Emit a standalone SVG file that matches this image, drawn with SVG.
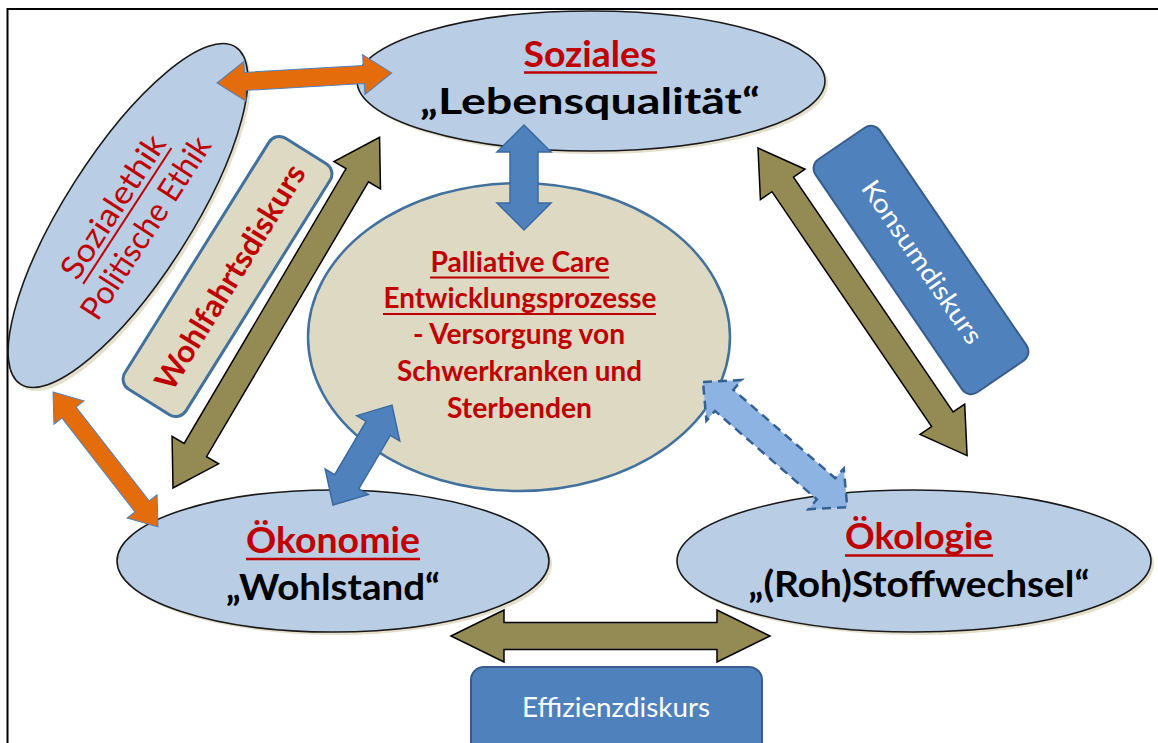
<svg xmlns="http://www.w3.org/2000/svg" width="1158" height="743" viewBox="0 0 1158 743">
  <defs>
    <style>
      .bg { fill: #ffffff; }
      .frame { fill: none; stroke: #000000; stroke-width: 2; }
      .dim { fill: #b9cde5; stroke: #1a1a1a; stroke-width: 1.6; }
      .dim-shadow { fill: #e4e0cc; stroke: none; }
      .core { fill: #ddd9c3; stroke: #41719c; stroke-width: 2.5; }
      .tanbox { fill: #ddd9c3; stroke: #41719c; stroke-width: 3; }
      .bluebox { fill: #4f81bd; stroke: #385d8a; stroke-width: 2; }
      .t { font-family: Lato, "Open Sans", "Liberation Sans", sans-serif; }
      .head { font-weight: bold; fill: #c00000; text-anchor: middle; }
      .sub { font-weight: bold; fill: #000000; text-anchor: middle; }
      .core-t { font-weight: bold; fill: #c00000; text-anchor: middle; font-size: 28px; }
      .ul { stroke: #c00000; stroke-width: 2.5; }
      .ul-thin { stroke: #c00000; stroke-width: 2; }
      .white { fill: #ffffff; text-anchor: middle; }
      .arr-orange { fill: #e46c0a; stroke: #4f81bd; stroke-width: 1; stroke-linejoin: miter; }
      .arr-olive { fill: #948a54; stroke: #000000; stroke-width: 1.5; stroke-linejoin: miter; }
      .arr-blue { fill: #4f81bd; stroke: #3a6aa0; stroke-width: 1.5; stroke-linejoin: miter; }
      .arr-dash { fill: #8db3e2; stroke: #376092; stroke-width: 2.5; stroke-dasharray: 9 6; stroke-linejoin: miter; }
    </style>
  </defs>

  <rect class="bg" x="0" y="0" width="1158" height="743"/>
  <path class="frame" d="M7.5,743 V9 H1158"/>

  <!-- Sozialethik / Politische Ethik -->
  <g id="node-sozialethik">
    <ellipse class="dim-shadow" cx="0" cy="0" rx="200" ry="63" transform="translate(131,219) rotate(-57.5)"/>
    <ellipse class="dim" cx="0" cy="0" rx="200" ry="63" transform="translate(128,215.5) rotate(-57.5)"/>
    <g transform="translate(129,217) rotate(-57)">
      <text class="t" x="0" y="-8" font-size="32" fill="#c00000" text-anchor="middle" textLength="165" lengthAdjust="spacingAndGlyphs">Sozialethik</text>
      <line class="ul-thin" x1="-81" y1="-2" x2="81" y2="-2"/>
      <text class="t" x="0" y="31" font-size="32" fill="#c00000" text-anchor="middle" textLength="211" lengthAdjust="spacingAndGlyphs">Politische Ethik</text>
    </g>
  </g>

  <!-- Soziales -->
  <g id="node-soziales">
    <ellipse class="dim-shadow" cx="594" cy="84" rx="234" ry="70"/>
    <ellipse class="dim" cx="591" cy="81" rx="234" ry="70"/>
    <text class="t head" x="590" y="67" font-size="36" textLength="133" lengthAdjust="spacingAndGlyphs">Soziales</text>
    <line class="ul" x1="524" y1="72.5" x2="657" y2="72.5"/>
    <text class="t sub" x="590" y="114" font-size="36" textLength="340" lengthAdjust="spacingAndGlyphs">„Lebensqualität“</text>
  </g>

  <!-- Wohlfahrtsdiskurs -->
  <g id="node-wohlfahrtsdiskurs">
    <rect class="tanbox" x="-148" y="-36" width="296" height="72" rx="12" transform="translate(227.5,276.5) rotate(-58)"/>
    <text class="t" x="0" y="11" font-size="31" font-weight="bold" fill="#c00000" text-anchor="middle" textLength="258" lengthAdjust="spacingAndGlyphs" transform="translate(230,277) rotate(-58.5)">Wohlfahrtsdiskurs</text>
  </g>

  <!-- Palliative Care -->
  <g id="node-palliative">
    <ellipse class="core" cx="519" cy="337" rx="211" ry="154"/>
    <text class="t core-t" x="520" y="272" textLength="179" lengthAdjust="spacingAndGlyphs">Palliative Care</text>
    <line class="ul-thin" x1="430" y1="277.5" x2="609" y2="277.5"/>
    <text class="t core-t" x="520" y="308" textLength="273" lengthAdjust="spacingAndGlyphs">Entwicklungsprozesse</text>
    <line class="ul-thin" x1="383" y1="314" x2="656" y2="314"/>
    <text class="t core-t" x="519" y="344" textLength="212" lengthAdjust="spacingAndGlyphs">- Versorgung von</text>
    <text class="t core-t" x="519.5" y="381" textLength="245" lengthAdjust="spacingAndGlyphs">Schwerkranken und</text>
    <text class="t core-t" x="519.5" y="418" textLength="145" lengthAdjust="spacingAndGlyphs">Sterbenden</text>
  </g>

  <!-- Konsumdiskurs -->
  <g id="node-konsumdiskurs">
    <rect class="bluebox" x="-141" y="-39" width="282" height="78" rx="11" transform="translate(921,260) rotate(55.7)"/>
    <text class="t white" x="0" y="9" font-size="26" textLength="192" lengthAdjust="spacingAndGlyphs" transform="translate(922,262) rotate(55.5)">Konsumdiskurs</text>
  </g>

  <!-- Ökonomie -->
  <g id="node-oekonomie">
    <ellipse class="dim-shadow" cx="336" cy="564" rx="216" ry="71"/>
    <ellipse class="dim" cx="333" cy="561" rx="216" ry="71"/>
    <text class="t head" x="333" y="553" font-size="36" textLength="174" lengthAdjust="spacingAndGlyphs">Ökonomie</text>
    <line class="ul" x1="246" y1="559" x2="420" y2="559"/>
    <text class="t sub" x="333" y="600" font-size="36" textLength="214" lengthAdjust="spacingAndGlyphs">„Wohlstand“</text>
  </g>

  <!-- Ökologie -->
  <g id="node-oekologie">
    <ellipse class="dim-shadow" cx="917" cy="564" rx="237" ry="71"/>
    <ellipse class="dim" cx="914" cy="561" rx="237" ry="71"/>
    <text class="t head" x="919" y="549" font-size="36" textLength="148" lengthAdjust="spacingAndGlyphs">Ökologie</text>
    <line class="ul" x1="845" y1="555.5" x2="993" y2="555.5"/>
    <text class="t sub" x="919" y="597" font-size="36" textLength="341" lengthAdjust="spacingAndGlyphs">„(Roh)Stoffwechsel“</text>
  </g>

  <!-- Effizienzdiskurs -->
  <g id="node-effizienzdiskurs">
    <rect class="bluebox" x="471" y="667" width="291" height="100" rx="13"/>
    <text class="t white" x="616" y="717" font-size="27" textLength="188" lengthAdjust="spacingAndGlyphs">Effizienzdiskurs</text>
  </g>

  <!-- Double-headed connectors -->
  <g id="connectors">
    <polygon class="arr-orange" transform="translate(217,83) rotate(-3.3)" points="0,0 28,-20 28,-9 147,-9 147,-20 175,0 147,20 147,9 28,9 28,20"/>
    <polygon class="arr-orange" transform="translate(53,392) rotate(52.1)" points="0,0 26,-19 26,-9 145,-9 145,-19 171,0 145,19 145,9 26,9 26,19"/>
    <polygon class="arr-olive" transform="translate(173,488) rotate(-59.5)" points="0,0 44,-27 44,-13 363,-13 363,-27 407,0 363,27 363,13 44,13 44,27"/>
    <polygon class="arr-olive" transform="translate(758,148) rotate(55.8)" points="0,0 44,-27 44,-13 328,-13 328,-27 372,0 328,27 328,13 44,13 44,27"/>
    <polygon class="arr-olive" points="451,636 504,610 504,622.5 717,622.5 717,610 770,636 717,662 717,649.5 504,649.5 504,662"/>
    <polygon class="arr-blue" points="524,125 551,152 538,152 538,203 551,203 524,230 497,203 510,203 510,152 497,152"/>
    <polygon class="arr-blue" transform="translate(333,505) rotate(-59.45)" points="0,0 27,-25 27,-14 89,-14 89,-25 116,0 89,25 89,14 27,14 27,25"/>
    <polygon class="arr-dash" transform="translate(703,382) rotate(40.96)" points="0,0 28,-27 28,-14 163,-14 163,-27 191,0 163,27 163,14 28,14 28,27"/>
  </g>
</svg>
